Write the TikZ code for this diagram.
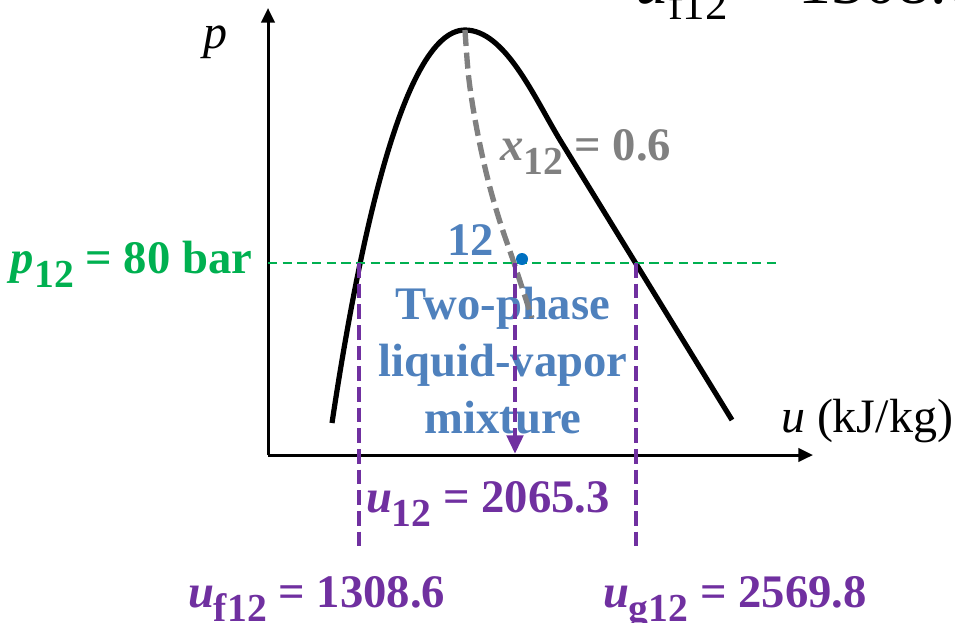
\documentclass[tikz,border=0pt]{standalone}
\usepackage{fontspec}
\setmainfont{Liberation Serif}
\usetikzlibrary{arrows.meta}
\definecolor{pgreen}{HTML}{00B050}
\definecolor{lblue}{HTML}{4F81BD}
\definecolor{dotblue}{HTML}{0070C0}
\definecolor{purp}{HTML}{7030A0}
\definecolor{qgray}{HTML}{808080}
\newcommand\fsz[1]{\fontsize{#1}{#1}\selectfont}
\newcommand\lsub[1]{\raisebox{-0.3em}{\scalebox{0.85}{#1}}}
\begin{document}
\begin{tikzpicture}[x=0.75pt,y=-0.75pt,
  axisline/.style={line width=2.25pt, -{Triangle[length=11pt,width=10pt]}},
  dome/.style={line width=3.9pt},
  qline/.style={qgray, line width=4pt, dash pattern=on 12pt off 5pt},
  pline/.style={purp, line width=3.6pt, dash pattern=on 11pt off 4.5pt},
  gline/.style={pgreen, line width=1.2pt, dash pattern=on 7pt off 4pt},
  txt/.style={inner sep=0pt, outer sep=0pt},
  blab/.style={txt, font=\bfseries\fsz{35pt}},
]
\useasboundingbox (0,0) rectangle (955,622);

% clipped title fragment at the top right
\begin{scope}
\clip (0,0) rectangle (955,622);
\node[txt, anchor=base west, font=\fsz{49.5pt}] (title) at (635,3)
  {\textit{u}\raisebox{-12pt}{\fsz{33.75pt}f12} = 1308.6};
\end{scope}

% texts
\node[blab, anchor=base west, pgreen] (plab) at (11,273) {\textit{p}\lsub{12} = 80 bar};
\node[blab, anchor=base west, lblue] (n12) at (447,255) {12};
\node[txt, align=center, lblue, font=\bfseries\fontsize{35pt}{42.75pt}\selectfont] (region) at (503,361) {Two-phase\\liquid-vapor\\mixture};
\node[blab, anchor=base west, qgray] (xlab) at (500,160) {\textit{x}\lsub{12} = 0.6};
\node[blab, anchor=base west, purp] (ulab) at (366,512) {\textit{u}\lsub{12} = 2065.3};
\node[blab, anchor=base west, purp] (uflab) at (188,607) {\textit{u}\lsub{f12} = 1308.6};
\node[blab, anchor=base west, purp] (uglab) at (603,607) {\textit{u}\lsub{g12} = 2569.8};
\node[txt, anchor=base west, font=\fsz{36pt}] (xaxl) at (781,432) {\textit{u} (kJ/kg)};
\node[txt, anchor=base west, font=\itshape\fsz{36pt}] (yaxl) at (203,48) {p};

% axes
\coordinate (O) at (268,455);
\coordinate (Ytop) at (268,8);
\coordinate (Xend) at (813,455);
\draw[axisline] (O) -- (Ytop);
\draw[axisline] (O) -- (Xend);

% saturation dome
\coordinate (dL) at (332,423);
\coordinate (dC) at (465,30);
\coordinate (dM) at (560,140);
\coordinate (dR) at (732,420);
\draw[dome] (dL) .. controls (355,270) and (400,30) .. (dC)
  .. controls (505,30) and (534,97) .. (dM) -- (dR);

% quality line x = 0.6
\draw[qline] plot[smooth, tension=0.6] coordinates {(465,30) (469,80) (477,130) (488,180) (500,222) (514,263) (532,318)};

% pressure line
\coordinate (g1) at (268,263);
\coordinate (g2) at (778,263);
\draw[gline] (g1) -- (g2);

% purple projections
\coordinate (f1) at (359,263);
\coordinate (f2) at (359,548);
\coordinate (h1) at (636,263);
\coordinate (h2) at (636,548);
\coordinate (s1) at (515,263);
\coordinate (s2) at (515,454);
\draw[pline] (f1) -- (f2);
\draw[pline] (h1) -- (h2);
\draw[pline, -{Triangle[length=14pt,width=12pt]}] (s1) -- (s2);

% state point
\node[circle, fill=dotblue, inner sep=0pt, minimum size=9pt] (pt12) at (522,259) {};
\end{tikzpicture}
\end{document}
